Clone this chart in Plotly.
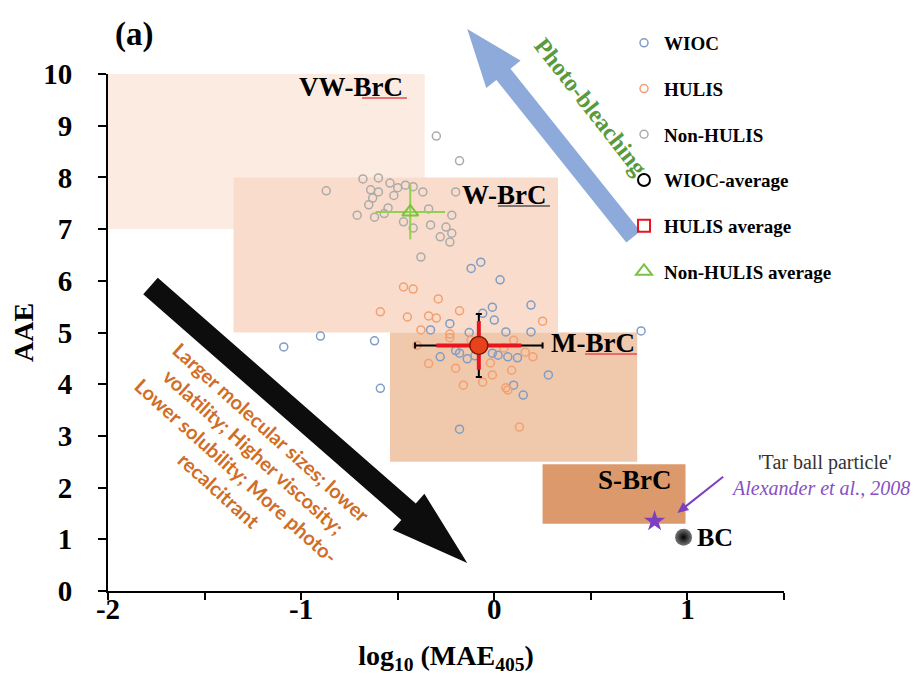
import plotly.graph_objects as go
import math

# ---------------- data ----------------
wioc_x = [-0.07, -0.12, 0.03, 0.19, -0.01, 0.00, -0.06, -0.23, -0.33, 0.06, 0.19, -0.13,
          -0.28, -0.18, -0.14, -0.01, 0.02, 0.07, 0.12, 0.28, 0.10, 0.15, -0.18, 0.76,
          -1.09, -0.90, -0.62, -0.59, -0.20, -0.10]
wioc_y = [6.36, 6.24, 6.02, 5.53, 5.49, 5.24, 5.37, 5.17, 5.05, 5.01, 5.01, 5.00,
          4.53, 4.60, 4.49, 4.60, 4.56, 4.53, 4.51, 4.18, 3.98, 3.79, 3.13, 5.03,
          4.72, 4.93, 4.84, 3.92, 4.65, 4.55]

hulis_x = [-0.47, -0.42, -0.29, -0.18, -0.59, -0.45, -0.34, -0.30, -0.38, -0.23, 0.25, -0.23,
           -0.34, -0.20, -0.16, -0.06, -0.01, 0.09, 0.07, 0.20, -0.02, 0.13, 0.10, 0.16,
           0.06, -0.12, 0.05, -0.40]
hulis_y = [5.88, 5.84, 5.65, 5.42, 5.40, 5.30, 5.32, 5.28, 5.05, 4.97, 5.22, 4.90,
           4.40, 4.31, 3.98, 4.04, 4.18, 4.27, 3.89, 4.53, 4.41, 3.17, 4.85, 4.62,
           3.93, 4.85, 4.70, 4.75]

nonhulis_x = [-0.30, -0.18, -0.68, -0.60, -0.54, -0.50, -0.46, -0.42, -0.37, -0.64, -0.60, -0.63,
              -0.65, -0.71, -0.62, -0.55, -0.34, -0.47, -0.42, -0.33, -0.22, -0.25, -0.22, -0.28,
              -0.23, -0.20, -0.87, -0.38, -0.57, -0.52]
nonhulis_y = [8.80, 8.32, 7.97, 7.99, 7.89, 7.80, 7.85, 7.82, 7.72, 7.76, 7.72, 7.60,
              7.47, 7.27, 7.23, 7.41, 7.39, 7.14, 7.02, 7.08, 7.27, 7.04, 6.92, 6.85,
              6.75, 7.72, 7.74, 6.46, 7.30, 7.65]

# averages: [x, y, x_err, y_err]
wioc_avg = [-0.08, 4.75, 0.33, 0.61]
hulis_avg = [-0.08, 4.75, 0.22, 0.47]
nonhulis_avg = [-0.435, 7.33, 0.18, 0.53]

tar_ball = [0.83, 1.35]
bc_point = [0.98, 1.04]

# class regions: name, x0, x1, y0, y1
regions = [
    ("VW-BrC", -2.0, -0.36, 7.0, 10.0),
    ("W-BrC", -1.35, 0.33, 5.0, 8.0),
    ("M-BrC", -0.54, 0.74, 2.5, 5.0),
    ("S-BrC", 0.25, 0.99, 1.3, 2.45),
]
region_colors = ["#fcebe1", "#f9dccb", "#f0c8ac", "#dc9a6c"]
region_label_pos = [(-0.74, 9.75), (0.05, 7.66), (0.51, 4.80), (0.73, 2.15)]

x_range = [-2, 1.5]
y_range = [0, 10]
x_ticks = [-2, -1, 0, 1]
y_ticks = list(range(0, 11))

# ---------------- layout geometry (screen pixels) ----------------
W, H = 919, 686
PAGE_OFF = 8  # default page body margin in the browser
ML, MR, MT, MB = 108, 135, 74, 95
PW, PH = W - ML - MR, H - MT - MB


def d2p(x, y):
    px = ML + (x - x_range[0]) / (x_range[1] - x_range[0]) * PW
    py = MT + (y_range[1] - y) / (y_range[1] - y_range[0]) * PH
    return px, py


def p2paper(px, py):
    return (px - ML) / PW, (H - MB - py) / PH


def arrow_path(tail, tip, shaft_hw, head_hw, head_len):
    tx, ty = d2p(*tail)
    hx, hy = d2p(*tip)
    L = math.hypot(hx - tx, hy - ty)
    ux, uy = (hx - tx) / L, (hy - ty) / L
    nx, ny = -uy, ux
    bx, by = hx - ux * head_len, hy - uy * head_len
    pts = [
        (tx + nx * shaft_hw, ty + ny * shaft_hw),
        (bx + nx * shaft_hw, by + ny * shaft_hw),
        (bx + nx * head_hw, by + ny * head_hw),
        (hx, hy),
        (bx - nx * head_hw, by - ny * head_hw),
        (bx - nx * shaft_hw, by - ny * shaft_hw),
        (tx - nx * shaft_hw, ty - ny * shaft_hw),
    ]
    pp = [p2paper(*p) for p in pts]
    return "M " + " L ".join(f"{a:.4f},{b:.4f}" for a, b in pp) + " Z"


def underline(px0, px1, py, color):
    x0, y0 = p2paper(px0, py)
    x1, _ = p2paper(px1, py)
    return dict(type="line", xref="paper", yref="paper", x0=x0, x1=x1, y0=y0, y1=y0,
                line=dict(color=color, width=1.5), layer="above")


SERIF = "Liberation Serif, Times New Roman, serif"

fig = go.Figure()

pt_style = dict(size=8, line=dict(width=1.5))
fig.add_trace(go.Scatter(x=wioc_x, y=wioc_y, mode="markers", name="<b>WIOC</b>", legendgroup="a",
                         marker=dict(symbol="circle-open", color="#7f9dc6", **pt_style)))
fig.add_trace(go.Scatter(x=hulis_x, y=hulis_y, mode="markers", name="<b>HULIS</b>", legendgroup="b",
                         marker=dict(symbol="circle-open", color="#f2a070", **pt_style)))
fig.add_trace(go.Scatter(x=nonhulis_x, y=nonhulis_y, mode="markers", name="<b>Non-HULIS</b>", legendgroup="c",
                         marker=dict(symbol="circle-open", color="#ababab", **pt_style)))

# WIOC average
fig.add_trace(go.Scatter(x=[wioc_avg[0]], y=[wioc_avg[1]], mode="markers", name="<b>WIOC-average</b>",
                         legendgroup="d",
                         error_x=dict(type="data", array=[wioc_avg[2]], color="black", thickness=2, width=3),
                         error_y=dict(type="data", array=[wioc_avg[3]], color="black", thickness=2, width=3),
                         marker=dict(symbol="circle-open", color="black", size=12, line=dict(width=2))))
# HULIS average (drawn)
fig.add_trace(go.Scatter(x=[hulis_avg[0]], y=[hulis_avg[1]], mode="markers", name="HULIS average",
                         showlegend=False,
                         error_x=dict(type="data", array=[hulis_avg[2]], color="#e8141e", thickness=4, width=0),
                         error_y=dict(type="data", array=[hulis_avg[3]], color="#e8141e", thickness=4, width=0),
                         marker=dict(symbol="circle", color="#e8421c", size=18,
                                     line=dict(color="#7a1a0a", width=1.5))))
# HULIS average legend entry
fig.add_trace(go.Scatter(x=[None], y=[None], mode="markers", name="<b>HULIS average</b>", legendgroup="e",
                         marker=dict(symbol="square-open", color="#e8141e", size=12, line=dict(width=2))))
# Non-HULIS average
fig.add_trace(go.Scatter(x=[nonhulis_avg[0]], y=[nonhulis_avg[1]], mode="markers",
                         name="<b>Non-HULIS average</b>", legendgroup="f",
                         error_x=dict(type="data", array=[nonhulis_avg[2]], color="#92d050", thickness=2, width=0),
                         error_y=dict(type="data", array=[nonhulis_avg[3]], color="#92d050", thickness=2, width=0),
                         marker=dict(symbol="triangle-up-open", color="#7cc242", size=14, line=dict(width=2))))

# Tar ball & BC
fig.add_trace(go.Scatter(x=[tar_ball[0]], y=[tar_ball[1]], mode="markers", showlegend=False,
                         marker=dict(symbol="star", color="#7b3fc0", size=16)))
fig.add_trace(go.Scatter(x=[bc_point[0]], y=[bc_point[1]], mode="markers", showlegend=False,
                         marker=dict(symbol="circle", color="#777777", size=17,
                                     gradient=dict(type="radial", color="#000000"),
                                     line=dict(width=0))))

shapes = []
for (name, x0, x1, y0, y1), col in zip(regions, region_colors):
    shapes.append(dict(type="rect", xref="x", yref="y", x0=x0, x1=x1, y0=y0, y1=y1,
                       fillcolor=col, line=dict(width=0), layer="below"))

# black arrow (down-right), blue photo-bleaching arrow, purple pointer arrow
shapes.append(dict(type="path", xref="paper", yref="paper",
                   path=arrow_path((-1.78, 5.9), (-0.14, 0.54), 11, 24, 78),
                   fillcolor="#0d0d0d", line=dict(width=0), layer="above"))
shapes.append(dict(type="path", xref="paper", yref="paper",
                   path=arrow_path((0.72, 6.85), (-0.14, 10.87), 9, 22, 58),
                   fillcolor="#8eaadb", line=dict(width=0), layer="above"))
shapes.append(dict(type="path", xref="paper", yref="paper",
                   path=arrow_path((1.185, 2.21), (0.948, 1.51), 1, 5, 11),
                   fillcolor="#7b3fc0", line=dict(width=0), layer="above"))
# spell-check style underlines seen under the labels
shapes.append(underline(362, 407, 98, "#e05050"))
shapes.append(underline(498, 550, 206, "#555555"))
shapes.append(underline(585, 637, 354, "#e05050"))

annotations = []
for (name, *_), (lx, ly) in zip(regions, region_label_pos):
    annotations.append(dict(x=lx, y=ly, xref="x", yref="y", text=f"<b>{name}</b>", showarrow=False,
                            xanchor="center", yanchor="middle",
                            font=dict(family=SERIF, size=27, color="black")))

annotations += [
    dict(x=p2paper(134, 0)[0], y=p2paper(0, 35)[1], xref="paper", yref="paper", text="<b>(a)</b>",
         showarrow=False, xanchor="center", yanchor="middle",
         font=dict(family=SERIF, size=33, color="black")),
    dict(x=1.04, y=1.04, xref="x", yref="y", text="<b>BC</b>", xanchor="left", yanchor="middle",
         showarrow=False, font=dict(family=SERIF, size=26, color="black")),
    dict(x=p2paper(825, 0)[0], y=p2paper(0, 462)[1], xref="paper", yref="paper",
         text="'Tar ball particle'", showarrow=False, xanchor="center", yanchor="middle",
         font=dict(family=SERIF, size=20, color="#333333")),
    dict(x=p2paper(820, 0)[0], y=p2paper(0, 488)[1], xref="paper", yref="paper",
         text="<i>Alexander et al., 2008</i>", showarrow=False, xanchor="center", yanchor="middle",
         font=dict(family=SERIF, size=20, color="#8550c4")),
    dict(x=0.50, y=9.36, xref="x", yref="y", text="<b>Photo-bleaching</b>", showarrow=False,
         xanchor="center", yanchor="middle",
         textangle=52, font=dict(family=SERIF, size=24, color="#5a9a3c")),
    dict(x=-1.29, y=2.51, xref="x", yref="y",
         text="<b>Larger molecular sizes; lower<br>volatility; Higher viscosity;<br>"
              "Lower solubility; More photo-<br>recalcitrant</b>",
         showarrow=False, textangle=42, align="center", xanchor="center", yanchor="middle",
         font=dict(family="Lato, Open Sans, sans-serif", size=20, color="#d06e28")),
]

fig.update_layout(
    width=W - PAGE_OFF, height=H - PAGE_OFF,
    margin=dict(l=ML - PAGE_OFF, r=MR, t=MT - PAGE_OFF, b=MB, pad=0),
    paper_bgcolor="white", plot_bgcolor="white",
    shapes=shapes, annotations=annotations,
    showlegend=True,
    legend=dict(x=p2paper(624, 0)[0], y=p2paper(0, 24)[1], xanchor="left", yanchor="top",
                bgcolor="rgba(0,0,0,0)", tracegroupgap=18,
                font=dict(family=SERIF, size=19, color="black")),
    xaxis=dict(range=x_range, tickvals=x_ticks, ticktext=[f"<b>{t}</b>" for t in x_ticks],
               automargin=False,
               showgrid=False, zeroline=False, showline=True, linecolor="black", linewidth=2,
               ticks="outside", ticklen=7, tickwidth=2, tickcolor="black", ticklabelstandoff=-16,
               minor=dict(dtick=0.5, ticks="outside", ticklen=7, tickwidth=2, tickcolor="black",
                          showgrid=False),
               tickfont=dict(family=SERIF, size=29, color="black"),
               title=dict(text="<b>log<sub>10</sub> (MAE<sub>405</sub>)</b>", standoff=22,
                          font=dict(family=SERIF, size=28, color="black"))),
    yaxis=dict(range=y_range, tickvals=y_ticks, ticktext=[f"<b>{t}</b>" for t in y_ticks],
               automargin=False,
               showgrid=False, zeroline=False, showline=True, linecolor="black", linewidth=2,
               ticks="outside", ticklen=8, tickwidth=2, tickcolor="black", ticklabelstandoff=20,
               tickfont=dict(family=SERIF, size=29, color="black"),
               title=dict(text="<b>AAE</b>", standoff=2,
                          font=dict(family=SERIF, size=28, color="black"))),
)

fig.write_html("out.html")
